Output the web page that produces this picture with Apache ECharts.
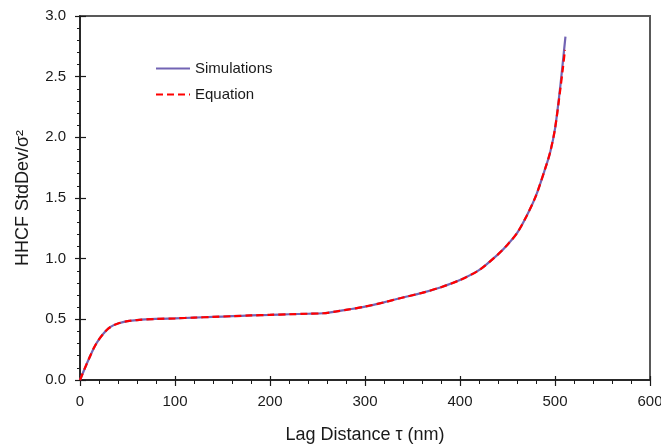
<!DOCTYPE html>
<html><head><meta charset="utf-8">
<script src="https://cdn.jsdelivr.net/npm/echarts@6/dist/echarts.min.js"></script>
<style>html,body{margin:0;padding:0;background:#fff}#c{width:661px;height:446px}</style>
</head><body><div id="c"></div>
<script>
var lagX = [0,5,10,15,20,25,30,35,40,50,60,80,100,120,140,160,180,200,220,240,256,270,280,300,320,340,360,380,400,420,440,450,460,470,480,490,495,500,505,508,511];
var simulations = [0,0.095,0.185,0.27,0.335,0.385,0.425,0.45,0.466,0.485,0.494,0.503,0.508,0.514,0.52,0.526,0.532,0.537,0.542,0.546,0.55,0.565,0.578,0.605,0.64,0.68,0.718,0.765,0.824,0.905,1.035,1.115,1.21,1.35,1.52,1.75,1.88,2.07,2.38,2.6,2.83];
var eqX = [0,5,10,15,20,25,30,35,40,50,60,80,100,120,140,160,180,200,220,240,256,270,280,300,320,340,360,380,400,420,440,450,460,470,480,490,495,500,505,508,510.5];
var equation = [0,0.095,0.185,0.27,0.335,0.385,0.425,0.45,0.466,0.485,0.494,0.503,0.508,0.514,0.52,0.526,0.532,0.537,0.542,0.546,0.55,0.565,0.578,0.605,0.64,0.68,0.718,0.765,0.824,0.905,1.035,1.115,1.21,1.35,1.52,1.75,1.88,2.07,2.36,2.55,2.72];
var xTicks = [0,100,200,300,400,500,600];
var yTicks = [0,0.5,1,1.5,2,2.5,3];

function pairs(xs, ys){ return xs.map(function(x,i){return [x, ys[i]];}); }
var font = 'Liberation Sans';
var chart = echarts.init(document.getElementById('c'));
chart.setOption({
  animation:false,
  textStyle:{fontFamily:font},
  grid:{left:80,right:11,top:16,bottom:66,show:true,borderColor:'#595959',borderWidth:2,outerBoundsMode:'none',containLabel:false},
  legend:{
    orient:'vertical', left:155, top:61, padding:0, itemWidth:34, itemHeight:12, itemGap:11,
    itemStyle:{opacity:0},
    textStyle:{fontSize:15,color:'#1a1a1a',fontFamily:font},
    data:['Simulations','Equation']
  },
  xAxis:[{
    type:'value', min:0, max:600, interval:100,
    name:'Lag Distance τ (nm)', nameLocation:'middle', nameGap:46,
    nameTextStyle:{fontSize:18,color:'#1a1a1a'},
    axisLine:{lineStyle:{color:'#1a1a1a',width:1.5}},
    axisTick:{show:true,length:6,lineStyle:{color:'#1a1a1a',width:1.2}},
    minorTick:{show:true,splitNumber:5,length:4,lineStyle:{color:'#1a1a1a',width:1}},
    axisLabel:{fontSize:15,color:'#1a1a1a',margin:14,formatter:function(v){return xTicks.indexOf(v)>=0?String(v):'';}},
    splitLine:{show:false}
  },{
    type:'value', min:0, max:600, interval:100, position:'bottom', offset:0,
    axisLine:{show:false},
    axisTick:{show:true,inside:true,length:4,lineStyle:{color:'#1a1a1a',width:1.2}},
    axisLabel:{show:false}, splitLine:{show:false}
  }],
  yAxis:[{
    type:'value', min:0, max:3, interval:0.5,
    name:'HHCF StdDev/σ²', nameLocation:'middle', nameGap:48,
    nameTextStyle:{fontSize:18,color:'#1a1a1a'},
    axisLine:{show:true,lineStyle:{color:'#1a1a1a',width:1.5}},
    axisTick:{show:true,length:5,lineStyle:{color:'#1a1a1a',width:1.2}},
    minorTick:{show:true,splitNumber:5,length:3,lineStyle:{color:'#1a1a1a',width:1}},
    axisLabel:{fontSize:15,color:'#1a1a1a',margin:14,formatter:function(v){return yTicks.indexOf(v)>=0?v.toFixed(1):'';}},
    splitLine:{show:false}
  },{
    type:'value', min:0, max:3, interval:0.5, position:'left', offset:0,
    axisLine:{show:false},
    axisTick:{show:true,inside:true,length:6,lineStyle:{color:'#1a1a1a',width:1.2}},
    axisLabel:{show:false}, splitLine:{show:false}
  }],
  series:[{
    name:'Simulations', type:'line', xAxisIndex:0, yAxisIndex:0,
    data:pairs(lagX, simulations), symbol:'none', smooth:0.3,
    lineStyle:{color:'#7264B4',width:2.2}, itemStyle:{color:'#7264B4'}
  },{
    name:'Equation', type:'line', xAxisIndex:0, yAxisIndex:0,
    data:pairs(eqX, equation), symbol:'none', smooth:0.3,
    lineStyle:{color:'#FF0000',width:2.2,type:[7,4]}, itemStyle:{color:'#FF0000'}
  }]
});
</script></body></html>
